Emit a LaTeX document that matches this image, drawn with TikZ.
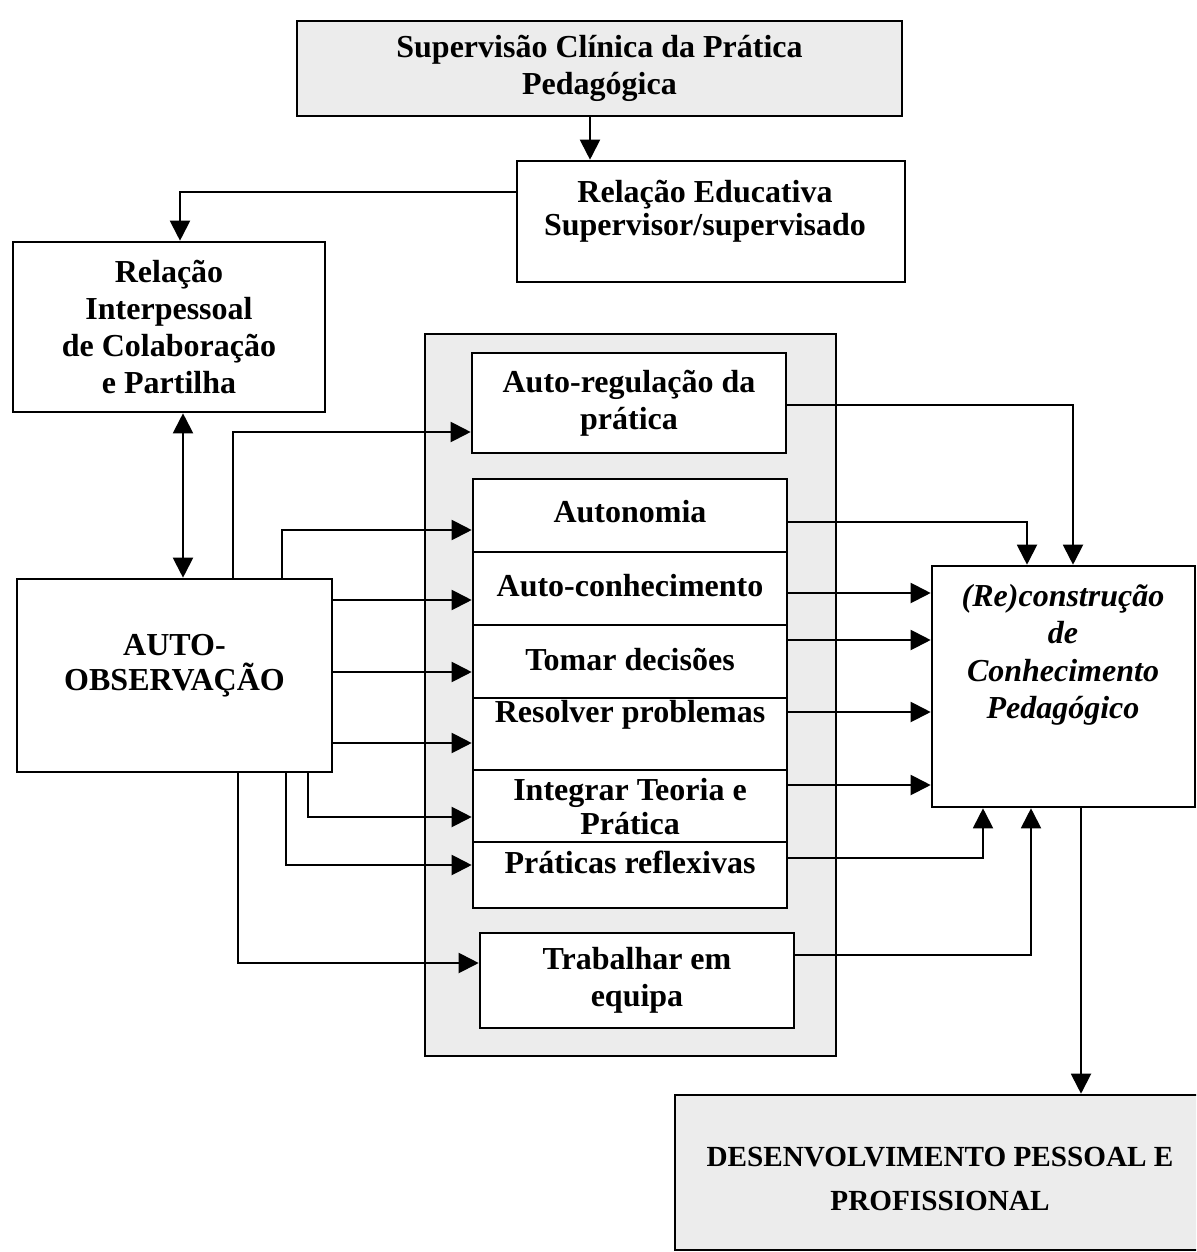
\documentclass[tikz,border=0pt]{standalone}
\usepackage{fontspec}
\setmainfont{Liberation Serif}
\usetikzlibrary{arrows.meta}
\definecolor{boxgray}{gray}{0.925}
\begin{document}
\begin{tikzpicture}[x=0.5pt,y=-0.5pt,
  box/.style={draw, line width=1.3pt, inner sep=0pt},
  txt/.style={align=center, inner sep=0pt, font=\fontsize{16}{18.5}\selectfont\bfseries},
  arr/.style={line width=1pt, -{Triangle[length=10pt,width=10pt]}},
  dbl/.style={line width=1pt, {Triangle[length=10pt,width=10pt]}-{Triangle[length=10pt,width=10pt]}},
  ln/.style={line width=1pt}]
\useasboundingbox (0,0) rectangle (1196,1252);
\clip (0,0) rectangle (1196,1252);

% helper coordinates
\foreach \v in {180,183,233,238,282,286,308,590,983,1027,1031,1073,1081}{\coordinate (x\v) at (\v,0);}
\foreach \v in {192,405,432,522,530,593,600,640,672,712,743,785,817,858,865,955,963}{\coordinate (y\v) at (0,\v);}

% container
\node[box, fill=boxgray, minimum width=205.5pt, minimum height=361pt] (cont) at (630.5,695) {};

% boxes
\node[box, fill=boxgray, minimum width=302.5pt, minimum height=47.5pt, txt] (sup) at (599.5,68.5) {Supervisão Clínica da Prática\\Pedagógica};
\node[box, fill=white, minimum width=194pt, minimum height=60.5pt] (rel) at (711,221.5) {};
\node[txt, font=\fontsize{16}{16.5}\selectfont\bfseries] (relt) at (705,211) {Relação Educativa\\Supervisor/supervisado};
\node[box, fill=white, minimum width=156pt, minimum height=85pt, txt] (inter) at (169,327) {Relação\\Interpessoal\\de Colaboração\\e Partilha};
\node[box, fill=white, minimum width=157.5pt, minimum height=96.5pt] (auto) at (174.5,675.5) {};
\node[txt, font=\fontsize{16}{17.5}\selectfont\bfseries] (autot) at (174.5,666) {AUTO-\\OBSERVAÇÃO};

\node[box, fill=white, minimum width=157pt, minimum height=50pt, txt] (areg) at (629,403) {Auto-regulação da\\prática};

\node[box, fill=white, minimum width=157pt, minimum height=36.5pt] (c1) at (630,515.5) {};
\node[box, fill=white, minimum width=157pt, minimum height=36.5pt] (c2) at (630,588.5) {};
\node[box, fill=white, minimum width=157pt, minimum height=36.5pt] (c3) at (630,661.5) {};
\node[box, fill=white, minimum width=157pt, minimum height=36pt] (c4) at (630,734) {};
\node[box, fill=white, minimum width=157pt, minimum height=36pt] (c5) at (630,806) {};
\node[box, fill=white, minimum width=157pt, minimum height=33pt] (c6) at (630,875) {};
\node[txt] (t1) at (630,512) {Autonomia};
\node[txt] (t2) at (630,586) {Auto-conhecimento};
\node[txt] (t3) at (630,659) {Tomar decisões};
\node[txt] (t4) at (630,715) {Resolver problemas};
\node[txt, font=\fontsize{16}{17}\selectfont\bfseries] (t5) at (630,807) {Integrar Teoria e\\Prática};
\node[txt] (t6) at (630,862) {Práticas reflexivas};

\node[box, fill=white, minimum width=157pt, minimum height=47.5pt, txt] (trab) at (637,980.5) {Trabalhar em\\equipa};

\node[box, fill=white, minimum width=131.5pt, minimum height=120.5pt] (recon) at (1063.5,686.5) {};
\node[txt, font=\fontsize{16}{18.75}\selectfont\bfseries\itshape] (recont) at (1063,655) {(Re)construção\\de\\Conhecimento\\Pedagógico};

\node[box, fill=boxgray, minimum width=265pt, minimum height=77.5pt] (desenv) at (940,1172.5) {};
\node[txt, font=\fontsize{14.6}{22}\selectfont\bfseries] (desenvt) at (940,1179) {DESENVOLVIMENTO PESSOAL E\\PROFISSIONAL};

% connectors top
\draw[arr] (sup.south -| x590) -- (rel.north -| x590);
\draw[arr] (rel.west |- y192) -| (inter.north -| x180);
\draw[dbl] (inter.south -| x183) -- (auto.north -| x183);

% from AUTO-OBSERVACAO
\draw[arr] (auto.north -| x233) |- (areg.west |- y432);
\draw[arr] (auto.north -| x282) |- (c1.west |- y530);
\draw[arr] (auto.east |- y600) -- (c2.west |- y600);
\draw[arr] (auto.east |- y672) -- (c3.west |- y672);
\draw[arr] (auto.east |- y743) -- (c4.west |- y743);
\draw[arr] (auto.south -| x308) |- (c5.west |- y817);
\draw[arr] (auto.south -| x286) |- (c6.west |- y865);
\draw[arr] (auto.south -| x238) |- (trab.west |- y963);

% to reconstrucao
\draw[arr] (areg.east |- y405) -| (recon.north -| x1073);
\draw[arr] (c1.east |- y522) -| (recon.north -| x1027);
\draw[arr] (c2.east |- y593) -- (recon.west |- y593);
\draw[arr] (c3.east |- y640) -- (recon.west |- y640);
\draw[arr] (c4.east |- y712) -- (recon.west |- y712);
\draw[arr] (c5.east |- y785) -- (recon.west |- y785);
\draw[arr] (c6.east |- y858) -| (recon.south -| x983);
\draw[arr] (trab.east |- y955) -| (recon.south -| x1031);
\draw[arr] (recon.south -| x1081) -- (desenv.north -| x1081);
\end{tikzpicture}
\end{document}
